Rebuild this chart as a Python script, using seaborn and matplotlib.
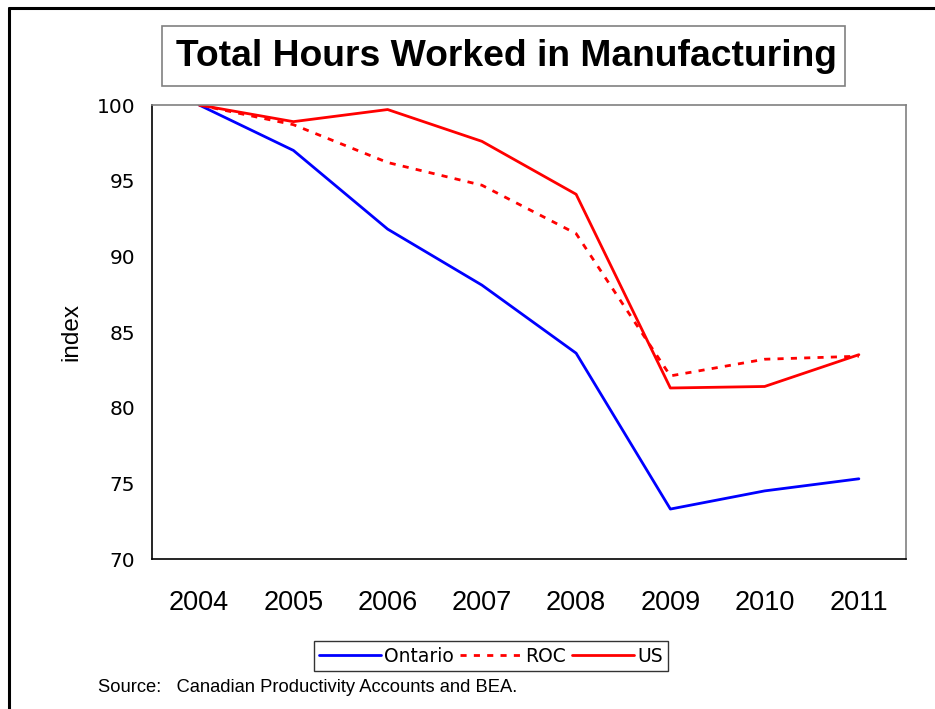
import matplotlib
matplotlib.use("Agg")
import matplotlib.pyplot as plt
import pandas as pd
import seaborn as sns
from matplotlib.lines import Line2D
from matplotlib.patches import Rectangle

years = ["2004", "2005", "2006", "2007", "2008", "2009", "2010", "2011"]
ontario = [100.0, 97.0, 91.8, 88.1, 83.6, 73.3, 74.5, 75.3]
roc = [100.0, 98.7, 96.2, 94.7, 91.5, 82.1, 83.2, 83.4]
us = [100.0, 98.9, 99.7, 97.6, 94.1, 81.3, 81.4, 83.5]
series_names = ["Ontario", "ROC", "US"]

W, H = 935, 709
sns.set_style("white")
plt.rcParams["text.color"] = "black"
plt.rcParams["axes.labelcolor"] = "black"
plt.rcParams["xtick.color"] = "black"
plt.rcParams["ytick.color"] = "black"

df = pd.DataFrame({
    "pos": list(range(len(years))) * 3,
    "value": ontario + roc + us,
    "series": [s for s in series_names for _ in years],
})

fig = plt.figure(figsize=(W / 100, H / 100), dpi=100)
ax = fig.add_axes([152 / W, 1 - 559 / H, (906 - 152) / W, (559 - 105) / H])

palette = {"Ontario": "#0000ff", "ROC": "#ff0000", "US": "#ff0000"}
dashes = {"Ontario": "", "ROC": (2.2, 2.6), "US": ""}
sns.lineplot(data=df, x="pos", y="value", hue="series", style="series",
             palette=palette, dashes=dashes, linewidth=2.0, ax=ax, legend=False)

ax.set_xlim(-0.5, len(years) - 0.5)
ax.set_ylim(70, 100)
ax.set_yticks(range(70, 101, 5))
ax.set_yticklabels([str(v) for v in range(70, 101, 5)], fontsize=14.5, family="DejaVu Sans")
ax.set_xticks([i - 0.5 for i in range(len(years) + 1)])
ax.set_xticklabels([])
ax.set_xticks(range(len(years)), minor=True)
ax.set_xticklabels(years, minor=True, fontsize=19.5, family="Liberation Sans")
ax.tick_params(axis="x", which="major", direction="out", length=8, width=1, color="black")
ax.tick_params(axis="x", which="minor", length=0, pad=22)
ax.tick_params(axis="y", direction="out", length=6, width=1, color="black", pad=6)
ax.set_xlabel("")
ax.set_ylabel("index", fontsize=17.5, family="Liberation Sans", labelpad=10)

for side in ["left", "bottom"]:
    ax.spines[side].set_color("black")
    ax.spines[side].set_linewidth(1.2)
for side in ["top", "right"]:
    ax.spines[side].set_color("#808080")
    ax.spines[side].set_linewidth(1.2)

# title box
fig.add_artist(Rectangle((162 / W, 1 - 86 / H), (845 - 162) / W, (86 - 26) / H,
                         transform=fig.transFigure, facecolor="white",
                         edgecolor="#808080", linewidth=1.2))
fig.text(506 / W, 1 - 57 / H, "Total Hours Worked in Manufacturing",
         ha="center", va="center", fontsize=26.8, fontweight="bold",
         family="Liberation Sans")

# outer border
fig.add_artist(Line2D([9 / W, 9 / W], [0, 1 - 8 / H], transform=fig.transFigure,
                      color="black", linewidth=2.2))
fig.add_artist(Line2D([9 / W, 1], [1 - 8 / H, 1 - 8 / H], transform=fig.transFigure,
                      color="black", linewidth=2.2))

handles = [
    Line2D([], [], color="#0000ff", linewidth=2.0),
    Line2D([], [], color="#ff0000", linewidth=2.0, dashes=(2.2, 2.6)),
    Line2D([], [], color="#ff0000", linewidth=2.0),
]
leg = fig.legend(handles, series_names, loc="center", bbox_to_anchor=(491 / W, 1 - 656 / H),
                 ncol=3, frameon=True, fancybox=False, handlelength=3.3,
                 handletextpad=0.15, columnspacing=0.35, borderpad=0.3,
                 prop={"family": "DejaVu Sans", "size": 13.5})
leg.get_frame().set_edgecolor("black")
leg.get_frame().set_linewidth(1.0)

fig.text(98 / W, 1 - 688 / H, "Source:   Canadian Productivity Accounts and BEA.",
         ha="left", va="center", fontsize=13.2, family="Liberation Sans")

fig.savefig("out.png", dpi=100)
